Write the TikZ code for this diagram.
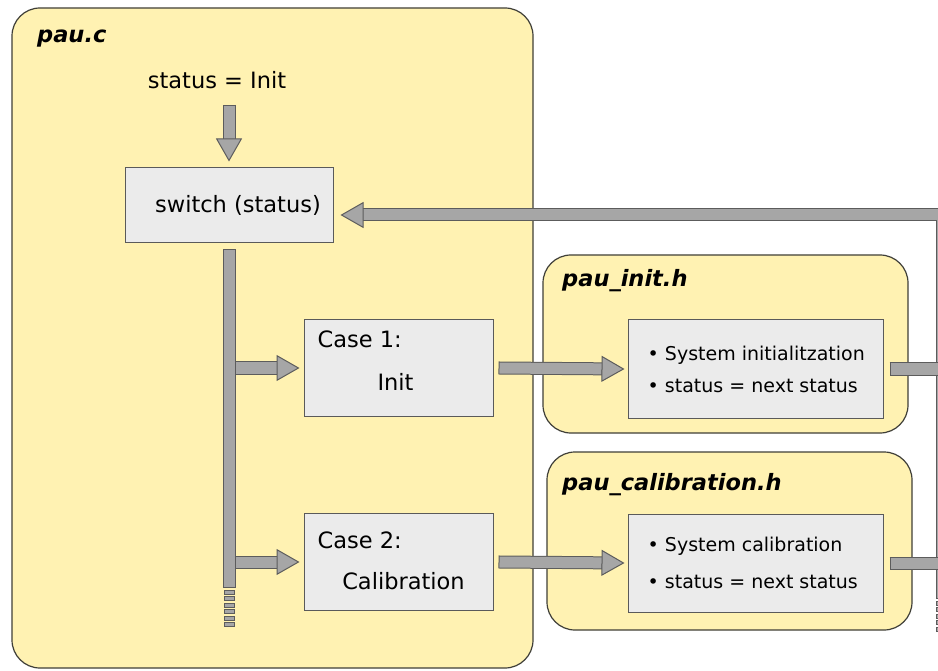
\documentclass[tikz,border=0pt]{standalone}
\usepackage{fontspec}
\setmainfont{DejaVu Sans}
\usetikzlibrary{arrows.meta,positioning,calc}
\definecolor{fileyellow}{HTML}{FFF2B2}
\definecolor{fileedge}{HTML}{3F3F38}
\definecolor{boxgray}{HTML}{EBEBEB}
\definecolor{boxedge}{HTML}{5A5A5A}
\definecolor{flowgray}{HTML}{A6A6A6}
\definecolor{flowedge}{HTML}{5C5C5C}
\tikzset{
  filebox/.style={draw=fileedge, fill=fileyellow, rounded corners=28pt,
    line width=1.2pt, inner sep=0pt},
  filename/.style={font=\fontsize{22.5}{27}\selectfont\bfseries\itshape,
    anchor=base west, inner sep=0pt},
  stepbox/.style={draw=boxedge, fill=boxgray, line width=1pt, inner sep=0pt},
  steptext/.style={font=\fontsize{22.5}{27}\selectfont, inner sep=0pt},
  bullettext/.style={font=\fontsize{19}{32}\selectfont, align=left,
    anchor=west, inner sep=0pt},
  % fat grey connectors
  flow/.style={draw=flowgray, line width=11pt,
    -{Triangle[length=23pt, width=26pt, fill=flowgray, color=flowedge, line width=1pt]},
    preaction={draw=flowedge, line width=13pt, -, shorten <=-1pt, shorten >=21pt}},
  bar/.style={draw=flowgray, line width=11pt,
    preaction={draw=flowedge, line width=13pt, shorten <=-1pt, shorten >=-1pt}},
  dotcell/.style={draw=flowedge, fill=flowgray, line width=0.8pt},
}
\begin{document}
\begin{tikzpicture}[x=1pt,y=-1pt]
  \clip (0,0) rectangle (938,671);
  \fill[white] (0,0) rectangle (938,671);

  % source files
  \node[filebox, minimum width=521pt, minimum height=660pt] (pauc) at (272.5,338) {};
  \node[filebox, minimum width=365pt, minimum height=178pt] (pauinit) at (725.5,344) {};
  \node[filebox, minimum width=365pt, minimum height=178pt] (paucal) at (729.5,541) {};
  \node[filename] (paucname) at (37,43) {pau.c};
  \node[filename] (pauinitname) at (562,287) {pau\_init.h};
  \node[filename] (paucalname) at (562,490) {pau\_calibration.h};

  % main loop
  \node[steptext] (status) at (217,80) {status = Init};
  \node[stepbox, minimum width=208pt, minimum height=75pt] (switch) at (229,205.5) {};
  \node[steptext] (switchtext) at ([xshift=9pt]switch.center) {switch (status)};

  \node[stepbox, minimum width=189pt, minimum height=97pt] (case1) at (398.5,368) {};
  \node[steptext, anchor=base west] (case1a) at ([xshift=14pt,yshift=-29pt]case1.north west) {Case 1:};
  \node[steptext, anchor=base] (case1b) at ([xshift=-3pt,yshift=-22pt]case1.center) {Init};

  \node[stepbox, minimum width=189pt, minimum height=97pt] (case2) at (398.5,562) {};
  \node[steptext, anchor=base west] (case2a) at ([xshift=14pt,yshift=-35pt]case2.north west) {Case 2:};
  \node[steptext, anchor=base] (case2b) at ([xshift=5pt,yshift=-27pt]case2.center) {Calibration};

  % header bodies
  \node[stepbox, minimum width=255pt, minimum height=98pt] (initbox) at (755.5,369) {};
  \node[bullettext] (inittext) at ([xshift=20pt]initbox.west)
    {• System initialitzation\\ • status = next status};
  \node[stepbox, minimum width=255pt, minimum height=98pt] (calbox) at (755.5,563) {};
  \node[bullettext] (caltext) at ([xshift=20pt]calbox.west)
    {• System calibration\\[5pt] • status = next status};

  \coordinate (trunktop) at ([yshift=-7pt]switch.south);
  \coordinate (trunkbot) at (trunktop |- 0,587);
  \coordinate (rettop) at (942,215);
  \coordinate (retbot) at (942,598);

  % back to the switch
  \draw[flow] (retbot) -- (rettop) -- ([xshift=7pt]switch.east |- rettop);
  \foreach \k in {0,...,4}
    \draw[dotcell] ([xshift=-6pt,yshift=-3-\k*6.5pt]retbot) rectangle ++(12,4);
  \draw[bar] ([xshift=7pt]initbox.east) -- (retbot |- initbox.east);
  \draw[bar] ([xshift=7pt]calbox.east) -- (retbot |- calbox.east);

  \draw[flow] ([yshift=-17pt]status.south -| switch.north) -- ([yshift=6pt]switch.north);
  \draw[flow] (trunktop |- case1.west) -- ([xshift=-4pt]case1.west);
  \draw[flow] (trunktop |- case2.west) -- ([xshift=-4pt]case2.west);
  \draw[bar] (trunktop) -- (trunkbot);
  \foreach \k in {0,...,5}
    \draw[dotcell] ([xshift=-5pt,yshift=-3-\k*6.5pt]trunkbot) rectangle ++(10,4);
  \draw[flow] ([xshift=6pt]case1.east) -- ([xshift=-3pt]initbox.west);
  \draw[flow] ([xshift=6pt]case2.east) -- ([xshift=-3pt]calbox.west);
\end{tikzpicture}
\end{document}
